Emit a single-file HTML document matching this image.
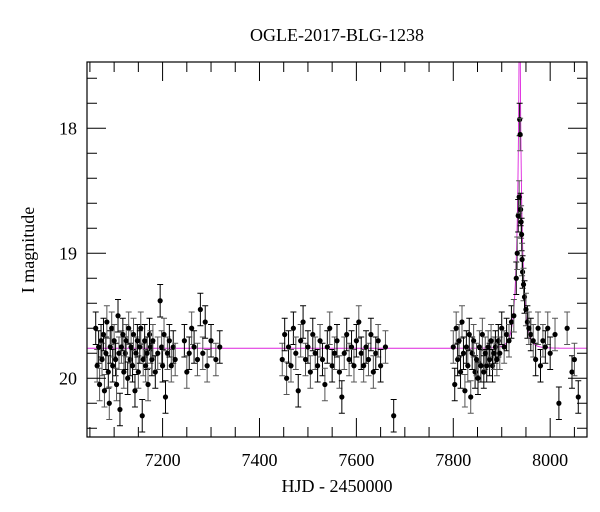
<!DOCTYPE html>
<html><head><meta charset="utf-8"><style>
html,body{margin:0;padding:0;background:#fff;}
svg{display:block;font-family:"Liberation Serif","DejaVu Serif",serif;}
</style></head><body>
<svg id="chart" width="600" height="512" viewBox="0 0 600 512" xmlns="http://www.w3.org/2000/svg">
<text x="337" y="41" font-size="18" text-anchor="middle">OGLE-2017-BLG-1238</text>
<text x="337" y="492" font-size="18" text-anchor="middle">HJD - 2450000</text>
<text x="34" y="250" font-size="18" text-anchor="middle" transform="rotate(-90 34 250)">I magnitude</text>
<g id="plot"></g>
</svg>
<script>
const times=[7062,7065,7068,7070,7073,7075,7078,7080,7083,7085,7088,7090,7092,7095,7097,7100,7103,7105,7108,7110,7112,7115,7118,7120,7123,7125,7128,7130,7133,7135,7138,7140,7143,7145,7148,7150,7153,7155,7158,7160,7163,7165,7168,7170,7173,7175,7178,7180,7185,7190,7195,7198,7200,7203,7206,7210,7214,7218,7222,7226,7245,7250,7255,7260,7265,7272,7278,7283,7288,7292,7300,7310,7318,
7447,7452,7456,7460,7465,7470,7475,7480,7485,7490,7495,7500,7505,7510,7515,7520,7525,7530,7535,7540,7545,7550,7555,7560,7565,7570,7575,7580,7585,7590,7595,7600,7605,7610,7615,7620,7625,7630,7635,7640,7645,7650,7660,7677,
7800,7803,7806,7809,7812,7815,7818,7821,7824,7827,7830,7833,7836,7839,7842,7845,7848,7851,7854,7857,7860,7863,7866,7869,7872,7875,7878,7881,7884,7887,7890,7893,7896,7900,7905,7910,7915,7920,7925,7930,7932,7934,7936,7937,7938,7939,7940,7941,7942,7943,7945,7947,7950,7953,7956,7960,7965,7970,7975,7980,7985,7990,7995,8000,8010,8018,8035,8045,8050,8058];
const mags=[19.6,19.9,19.75,20.05,19.7,19.85,19.65,20.1,19.8,19.55,19.95,20.2,19.75,19.6,19.9,19.7,19.85,20.05,19.5,19.8,20.25,19.75,19.65,19.95,19.8,19.7,20.0,19.6,19.85,19.75,19.9,19.65,20.1,19.8,19.7,19.95,19.75,19.6,20.3,19.85,19.7,19.9,19.8,20.05,19.65,19.75,19.85,19.7,19.95,19.8,19.38,19.75,19.9,19.65,20.15,19.8,19.7,19.9,19.75,19.85,19.7,19.95,19.8,19.6,19.75,19.85,19.45,19.8,19.55,19.9,19.7,19.85,19.75,
19.85,19.65,20.0,19.75,19.9,19.6,19.8,20.1,19.7,19.55,19.85,19.75,19.95,19.65,19.8,19.9,19.7,19.85,20.05,19.75,19.6,19.9,19.8,19.7,19.95,20.15,19.8,19.65,19.85,19.75,19.9,19.7,19.55,19.8,19.9,19.75,19.85,19.65,19.95,19.8,19.7,19.9,19.75,20.3,
19.75,20.05,19.6,19.85,19.7,19.95,19.55,19.8,20.1,19.75,19.9,19.65,20.15,19.8,19.7,19.95,19.85,20.0,19.75,19.9,19.65,19.95,19.8,19.9,19.75,19.85,19.7,19.9,19.8,19.75,19.85,19.7,19.8,19.6,19.75,19.65,19.7,19.55,19.5,19.2,19.0,18.7,18.55,17.93,18.05,18.65,18.75,18.85,19.05,19.15,19.25,19.35,19.45,19.55,19.6,19.65,19.7,19.85,19.6,19.9,19.7,19.75,19.6,19.8,19.65,20.2,19.6,19.95,19.85,20.15];
const magErr=0.13;
const xTicks=[7200,7400,7600,7800,8000];
const yTicks=[18,19,20];
const model={t0:7937,tE:12,u0:0.05,base:19.76};

const L=87,R=587,T=62,B=437;
const xMin=7044,xMax=8076,yMin=17.47,yMax=20.47;
const X=t=>L+(t-xMin)/(xMax-xMin)*(R-L);
const Y=m=>T+(m-yMin)/(yMax-yMin)*(B-T);
const NS="http://www.w3.org/2000/svg";
const g=document.getElementById('plot');
function mk(tag,attrs,parent){const e=document.createElementNS(NS,tag);for(const k in attrs)e.setAttribute(k,attrs[k]);(parent||g).appendChild(e);return e;}

const defs=mk('defs',{});
const cp=mk('clipPath',{id:'clip'},defs);
mk('rect',{x:L,y:T,width:R-L,height:B-T},cp);

let d='';
for(let t=xMin;t<=xMax;t+=0.25){
  const u=Math.sqrt(model.u0*model.u0+((t-model.t0)/model.tE)**2);
  const A=(u*u+2)/(u*Math.sqrt(u*u+4));
  const m=model.base-2.5*Math.log10(A);
  d+=(d?'L':'M')+X(t).toFixed(2)+','+Y(m).toFixed(2);
}
const curve=mk('path',{d:d,fill:'none',stroke:'#dd22dd','stroke-width':0.9,'clip-path':'url(#clip)'});



const pts=mk('g',{'clip-path':'url(#clip)'});


for(let i=0;i<times.length;i++){
  const x=X(times[i]),y=Y(mags[i]),y1=Y(mags[i]-magErr),y2=Y(mags[i]+magErr);
  const eb=mk('path',{d:`M${x},${y1}V${y2}M${x-3},${y1}H${x+3}M${x-3},${y2}H${x+3}`,stroke:i%2?'#555':'#000','stroke-width':1,fill:'none'},pts);
  
  
  const c=mk('circle',{cx:x,cy:y,r:2.6,fill:'#000'},pts);
  
  
}

const fr=mk('rect',{x:L,y:T,width:R-L,height:B-T,fill:'none',stroke:'#000','stroke-width':1.2});



for(let t=7050;t<=xMax;t+=50){
  const major=t%200===0;const len=major?19:10;const x=X(t);
  mk('line',{x1:x,y1:B,x2:x,y2:B-len,stroke:'#000','stroke-width':1});
  mk('line',{x1:x,y1:T,x2:x,y2:T+len,stroke:'#000','stroke-width':1});
}
for(const t of xTicks){
  const tx=mk('text',{x:X(t),y:B+29,'font-size':18,'text-anchor':'middle'});
  tx.textContent=t;
  
  
}
for(let k=Math.ceil(yMin*5);k<=yMax*5;k++){
  const m=k/5;const major=k%5===0;const len=major?19:10;const y=Y(m);
  mk('line',{x1:L,y1:y,x2:L+len,y2:y,stroke:'#000','stroke-width':1});
  mk('line',{x1:R,y1:y,x2:R-len,y2:y,stroke:'#000','stroke-width':1});
}
for(const m of yTicks){
  const tx=mk('text',{x:L-10,y:Y(m)+6,'font-size':18,'text-anchor':'end'});
  tx.textContent=m;
  
  
}
</script>
</body></html>
